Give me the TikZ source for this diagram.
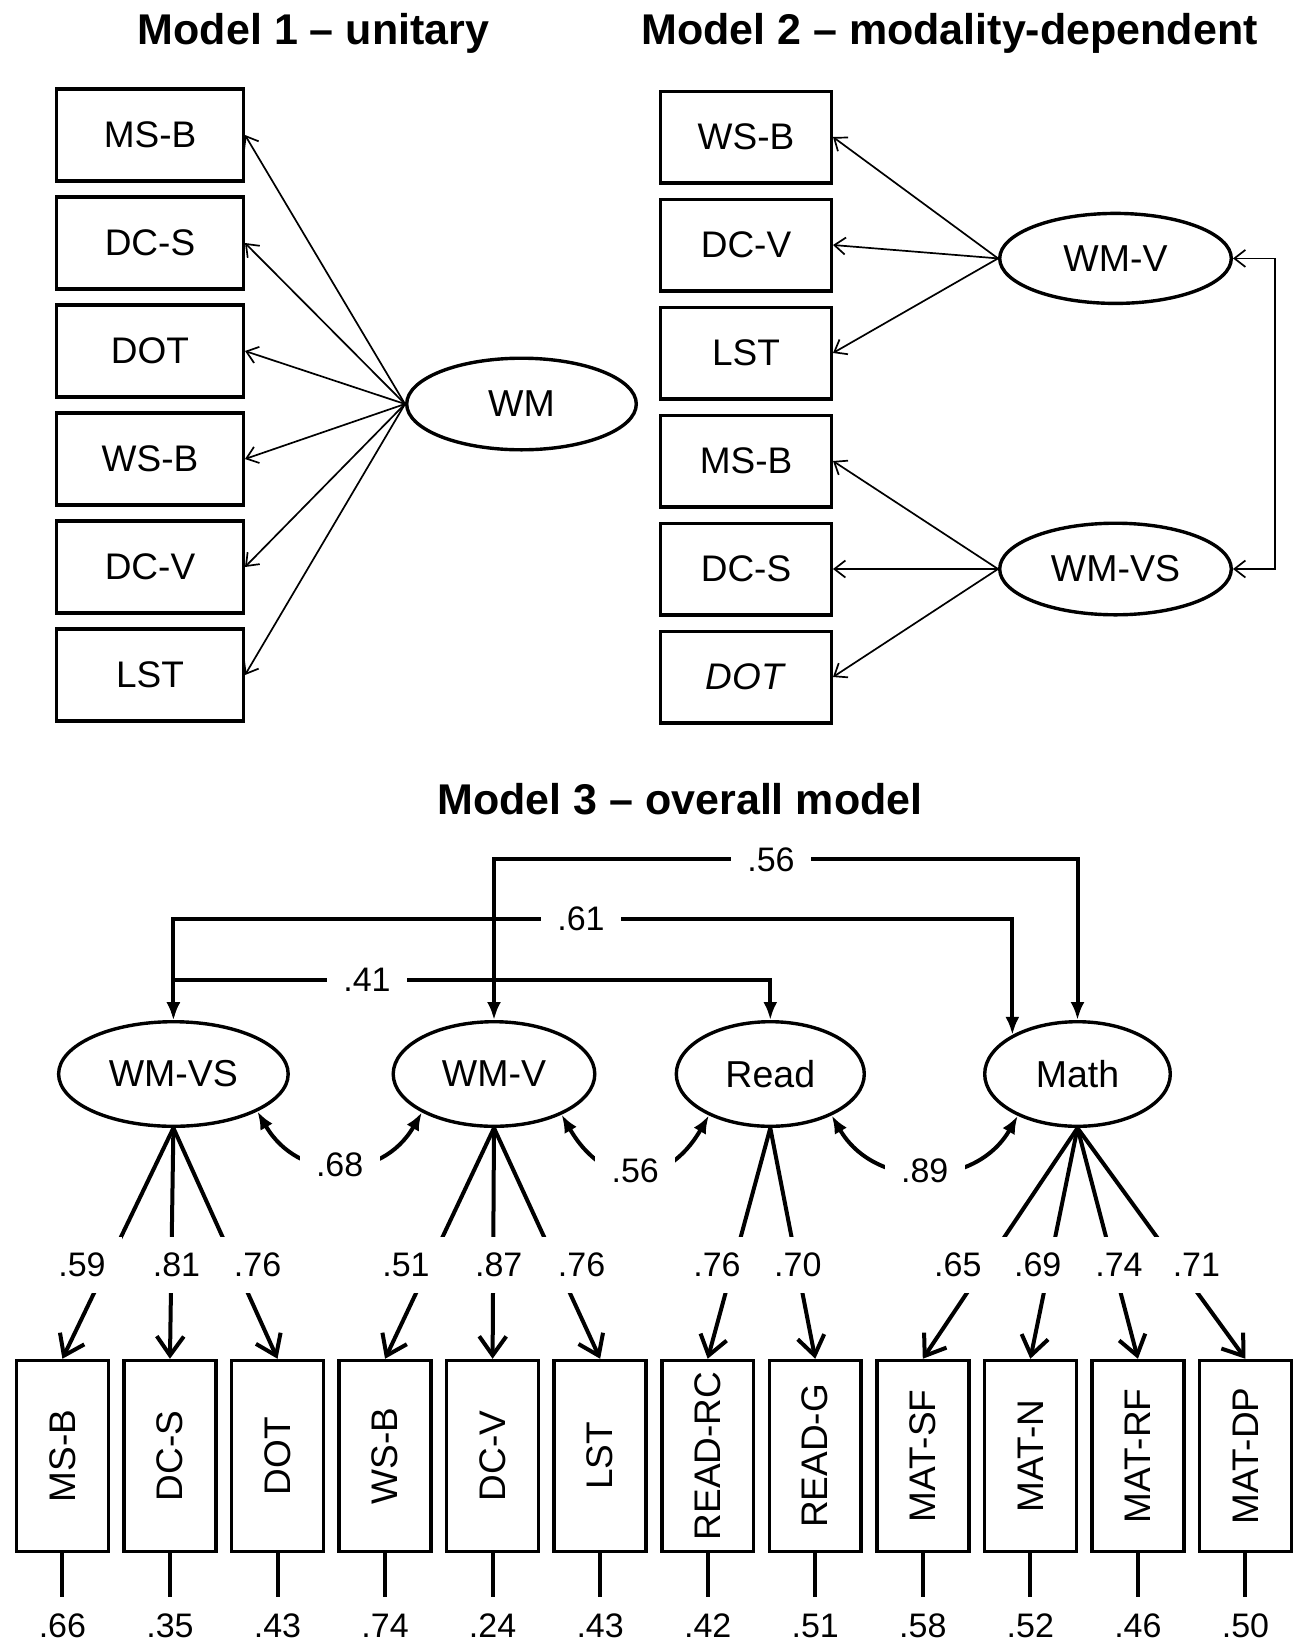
\documentclass[tikz,border=0pt]{standalone}
\usepackage{fontspec}
\usepackage{graphicx}
\setmainfont{Liberation Sans}
\usetikzlibrary{positioning,shapes.geometric,arrows.meta}

\tikzset{
  ttl/.style={font=\fontsize{43}{48}\selectfont\bfseries, anchor=base},
  task/.style={draw, line width=3.4pt, minimum width=186.6pt, minimum height=92pt, inner sep=0pt, font=\fontsize{37}{40}\selectfont},
  task2/.style={task, minimum width=170.6pt, minimum height=91.6pt},
  factor/.style={draw, ellipse, line width=3.4pt, inner sep=0pt, font=\fontsize{37.5}{40}\selectfont},
  ind/.style={draw, line width=3.6pt, minimum width=91.9pt, minimum height=190.9pt, inner sep=0pt, font=\fontsize{37}{40}\selectfont},
  arr/.style={line width=1.7pt, -{Straight Barb[length=11pt,width=17pt]}},
  load/.style={line width=4pt, -{Straight Barb[length=19pt,width=27pt]}},
  cov/.style={line width=4pt, {Latex[length=18pt,width=14pt]}-{Latex[length=18pt,width=14pt]}},
  lbl/.style={fill=white, minimum width=80pt, minimum height=56pt, inner sep=0pt, font=\fontsize{34}{38}\selectfont},
}

\begin{document}
\begin{tikzpicture}[x=1pt,y=1pt]
\path[use as bounding box, fill=white] (0,0) rectangle (1306,-1647);

% Model 1
\node[ttl] (t1) at (313.5,-44) {Model 1 -- unitary};
\node[task] (msb1) at (150,-135) {MS-B};
\node[task, below=12.6pt of msb1] (dcs1) {DC-S};
\node[task, below=12.6pt of dcs1] (dot1) {DOT};
\node[task, below=12.6pt of dot1] (wsb1) {WS-B};
\node[task, below=12.6pt of wsb1] (dcv1) {DC-V};
\node[task, below=12.6pt of dcv1] (lst1) {LST};
\node[factor, minimum width=229.6pt, minimum height=91.6pt] (wm1) at (521.5,-404) {WM};
\foreach \t in {msb1,dcs1,dot1,wsb1,dcv1,lst1}
  \draw[arr] (wm1.west) -- (\t.east);

% Model 2
\node[ttl] (t2) at (949.5,-44) {Model 2 -- modality-dependent};
\node[task2] (wsb2) at (746,-137) {WS-B};
\node[task2, below=13pt of wsb2] (dcv2) {DC-V};
\node[task2, below=13pt of dcv2] (lst2) {LST};
\node[task2, below=13pt of lst2] (msb2) {MS-B};
\node[task2, below=13pt of msb2] (dcs2) {DC-S};
\node[task2, below=13pt of dcs2] (dot2) {\textit{DOT}};
\node[factor, minimum width=231.6pt, minimum height=90pt] (wmv2) at (1115.5,-258.4) {WM-V};
\node[factor, minimum width=231.6pt, minimum height=91.6pt] (wmvs2) at (1115.5,-569) {WM-VS};
\foreach \t in {wsb2,dcv2,lst2}
  \draw[arr] (wmv2.west) -- (\t.east);
\foreach \t in {msb2,dcs2,dot2}
  \draw[arr] (wmvs2.west) -- (\t.east);
\draw[arr, {Straight Barb[length=11pt,width=17pt]}-{Straight Barb[length=11pt,width=17pt]}] (wmv2.east) -- ++(42,0) |- (wmvs2.east);

% Model 3
\node[ttl] (t3) at (680,-814) {Model 3 -- overall model};
\node[factor, minimum width=229.6pt, minimum height=104.6pt] (wmvs3) at (173.4,-1074) {WM-VS};
\node[factor, minimum width=201.6pt, minimum height=104.6pt] (wmv3) at (494,-1074) {WM-V};
\node[factor, minimum width=188pt, minimum height=104.6pt] (read3) at (770.3,-1074) {Read};
\node[factor, minimum width=185.6pt, minimum height=104.6pt] (math3) at (1077.5,-1074) {Math};

\node[ind] (msb3) at (62.4,-1456) {\rotatebox{90}{MS-B}};
\node[ind, right=12.05pt of msb3] (dcs3) {\rotatebox{90}{DC-S}};
\node[ind, right=12.05pt of dcs3] (dot3) {\rotatebox{90}{DOT}};
\node[ind, right=12.05pt of dot3] (wsb3) {\rotatebox{90}{WS-B}};
\node[ind, right=12.05pt of wsb3] (dcv3) {\rotatebox{90}{DC-V}};
\node[ind, right=12.05pt of dcv3] (lst3) {\rotatebox{90}{LST}};
\node[ind, right=12.05pt of lst3] (rrc3) {\rotatebox{90}{READ-RC}};
\node[ind, right=12.05pt of rrc3] (rg3) {\rotatebox{90}{READ-G}};
\node[ind, right=12.05pt of rg3] (msf3) {\rotatebox{90}{MAT-SF}};
\node[ind, right=12.05pt of msf3] (mn3) {\rotatebox{90}{MAT-N}};
\node[ind, right=12.05pt of mn3] (mrf3) {\rotatebox{90}{MAT-RF}};
\node[ind, right=12.05pt of mrf3] (mdp3) {\rotatebox{90}{MAT-DP}};

\foreach \t in {msb3,dcs3,dot3}
  \draw[load] (wmvs3.south) -- (\t.north);
\foreach \t in {wsb3,dcv3,lst3}
  \draw[load] (wmv3.south) -- (\t.north);
\foreach \t in {rrc3,rg3}
  \draw[load] (read3.south) -- (\t.north);
\foreach \t in {msf3,mn3,mrf3,mdp3}
  \draw[load] (math3.south) -- (\t.north);

\coordinate (c56) at (771,-859.3);
\coordinate (c61) at (581,-919);
\coordinate (c41) at (367,-980);
\draw[cov] (wmv3.north) |- (c56) -| (math3.north);
\draw[cov] (wmvs3.north) |- (c61) -| (math3.149);
\draw[cov] (read3.north) |- (c41) -| (wmvs3.north);
\node[lbl] at (c56) {.56};
\node[lbl] at (c61) {.61};
\node[lbl] at (c41) {.41};

\draw[cov] (wmvs3.-24) to[out=-60,in=-120,looseness=1.26] node[lbl]{.68} (wmv3.-152);
\draw[cov] (wmv3.-31) to[out=-60,in=-120,looseness=1.49] node[lbl]{.56} (read3.-146);
\draw[cov] (read3.-34) to[out=-60,in=-120,looseness=1.17] node[lbl]{.89} (math3.-145);

\node[lbl] at (82,-1265) {.59};
\node[lbl] at (176.5,-1265) {.81};
\node[lbl] at (257.6,-1265) {.76};
\node[lbl] at (406,-1265) {.51};
\node[lbl] at (498.7,-1265) {.87};
\node[lbl] at (581.6,-1265) {.76};
\node[lbl] at (717,-1265) {.76};
\node[lbl] at (797.8,-1265) {.70};
\node[lbl] at (957.8,-1265) {.65};
\node[lbl] at (1037.7,-1265) {.69};
\node[lbl] at (1119,-1265) {.74};
\node[lbl] at (1196.4,-1265) {.71};

\node[lbl, below=44pt of msb3] (emsb3) {.66};
\node[lbl, below=44pt of dcs3] (edcs3) {.35};
\node[lbl, below=44pt of dot3] (edot3) {.43};
\node[lbl, below=44pt of wsb3] (ewsb3) {.74};
\node[lbl, below=44pt of dcv3] (edcv3) {.24};
\node[lbl, below=44pt of lst3] (elst3) {.43};
\node[lbl, below=44pt of rrc3] (errc3) {.42};
\node[lbl, below=44pt of rg3] (erg3) {.51};
\node[lbl, below=44pt of msf3] (emsf3) {.58};
\node[lbl, below=44pt of mn3] (emn3) {.52};
\node[lbl, below=44pt of mrf3] (emrf3) {.46};
\node[lbl, below=44pt of mdp3] (emdp3) {.50};
\foreach \t in {msb3,dcs3,dot3,wsb3,dcv3,lst3,rrc3,rg3,msf3,mn3,mrf3,mdp3}
  \draw[line width=4pt] (\t.south) -- (e\t.north);
\end{tikzpicture}
\end{document}
